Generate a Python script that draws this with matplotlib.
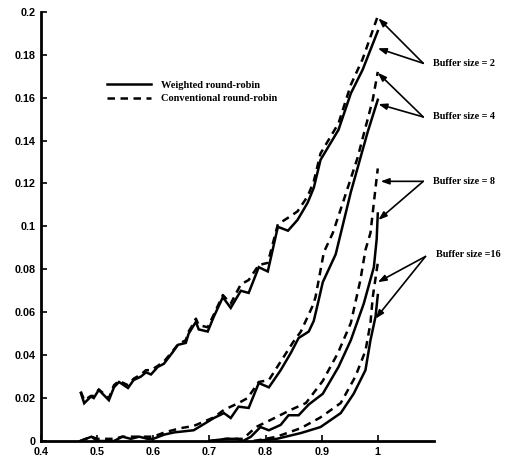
import matplotlib
matplotlib.use("Agg")
import matplotlib.pyplot as plt
from matplotlib.lines import Line2D

# Buffer size = 2
x_b2 = [0.471, 0.477, 0.489, 0.494, 0.503, 0.521, 0.530, 0.539, 0.555, 0.565,
        0.578, 0.587, 0.596, 0.608, 0.619, 0.635, 0.644, 0.658, 0.663, 0.670,
        0.676, 0.681, 0.697, 0.708, 0.724, 0.738, 0.756, 0.770, 0.788, 0.804,
        0.822, 0.840, 0.857, 0.875, 0.886, 0.898, 0.930, 0.952, 0.973, 1.0]
w_b2 = [0.0224, 0.0176, 0.0207, 0.020, 0.0238, 0.019, 0.025, 0.0275, 0.0247, 0.0284,
        0.030, 0.032, 0.031, 0.0345, 0.036, 0.0415, 0.0448, 0.0457, 0.050, 0.053,
        0.0555, 0.052, 0.051, 0.058, 0.067, 0.062, 0.070, 0.069, 0.081, 0.079,
        0.0998, 0.098, 0.103, 0.111, 0.118, 0.131, 0.145, 0.162, 0.173, 0.191]
c_b2 = [0.023, 0.019, 0.021, 0.021, 0.024, 0.020, 0.026, 0.028, 0.026, 0.029,
        0.031, 0.033, 0.033, 0.035, 0.037, 0.042, 0.045, 0.047, 0.051, 0.054,
        0.057, 0.054, 0.053, 0.059, 0.068, 0.064, 0.073, 0.075, 0.082, 0.083,
        0.101, 0.104, 0.107, 0.114, 0.121, 0.134, 0.148, 0.166, 0.178, 0.198]

# Buffer size = 4
x_b4w = [0.47, 0.49, 0.50, 0.53, 0.545, 0.56, 0.575, 0.59, 0.60, 0.62, 0.637,
         0.672, 0.708, 0.726, 0.738, 0.752, 0.770, 0.788, 0.806, 0.827, 0.845,
         0.859, 0.877, 0.886, 0.895, 0.902, 0.925, 0.952, 0.982, 1.0]
w_b4 = [0.0, 0.002, 0.0, 0.0, 0.002, 0.001, 0.002, 0.001, 0.001, 0.003, 0.004,
        0.005, 0.0107, 0.013, 0.0107, 0.016, 0.0154, 0.027, 0.025, 0.033, 0.041,
        0.048, 0.051, 0.056, 0.066, 0.074, 0.087, 0.116, 0.144, 0.159]
x_b4c = [0.47, 0.49, 0.50, 0.53, 0.545, 0.56, 0.575, 0.59, 0.60, 0.62, 0.649,
         0.672, 0.708, 0.726, 0.752, 0.768, 0.788, 0.806, 0.827, 0.849, 0.863,
         0.884, 0.889, 0.904, 0.920, 0.939, 0.964, 0.982, 0.991, 1.0]
c_b4 = [0.0, 0.002, 0.001, 0.001, 0.002, 0.002, 0.002, 0.002, 0.002, 0.004, 0.006,
        0.007, 0.011, 0.0145, 0.0177, 0.020, 0.0275, 0.0284, 0.037, 0.046, 0.051,
        0.063, 0.067, 0.088, 0.097, 0.112, 0.132, 0.150, 0.159, 0.172]

# Buffer size = 8
x_b8w = [0.70, 0.73, 0.75, 0.76, 0.774, 0.791, 0.806, 0.827, 0.841, 0.859,
         0.877, 0.902, 0.930, 0.952, 0.975, 0.993, 0.998, 1.0]
w_b8 = [0.0, 0.001, 0.001, 0.0, 0.002, 0.0065, 0.005, 0.0075, 0.012, 0.012,
        0.017, 0.022, 0.0345, 0.047, 0.064, 0.081, 0.094, 0.106]
x_b8c = [0.70, 0.73, 0.75, 0.76, 0.783, 0.809, 0.845, 0.872, 0.902, 0.929,
         0.952, 0.969, 0.978, 0.987, 0.996, 1.0]
c_b8 = [0.0, 0.001, 0.001, 0.001, 0.0065, 0.0098, 0.0145, 0.0177, 0.028, 0.041,
        0.055, 0.075, 0.089, 0.097, 0.118, 0.127]

# Buffer size = 16
x_b16w = [0.78, 0.82, 0.863, 0.898, 0.934, 0.957, 0.978, 0.987, 0.996, 1.0]
w_b16 = [0.0, 0.001, 0.0037, 0.0065, 0.013, 0.022, 0.033, 0.047, 0.058, 0.068]
x_b16c = [0.78, 0.82, 0.863, 0.898, 0.934, 0.960, 0.978, 0.987, 0.991, 1.0]
c_b16 = [0.0, 0.002, 0.006, 0.011, 0.0177, 0.030, 0.042, 0.055, 0.067, 0.083]

labels = ["Buffer size = 2", "Buffer size = 4", "Buffer size = 8", "Buffer size =16"]
label_pos = [(1.099, 0.176), (1.099, 0.151), (1.099, 0.121), (1.103, 0.087)]
arrow_tail = [(1.081, 0.176), (1.081, 0.151), (1.081, 0.121), (1.085, 0.086)]
arrow_heads = [[(1.001, 0.197), (1.0, 0.183)],
               [(1.0, 0.1716), (1.001, 0.157)],
               [(1.005, 0.121), (1.001, 0.103)],
               [(1.0, 0.074), (0.996, 0.057)]]

yticks = [0, 0.02, 0.04, 0.06, 0.08, 0.1, 0.12, 0.14, 0.16, 0.18, 0.2]
ytick_labels = ["0", "0.02", "0.04", "0.06", "0.08", "0.1", "0.12", "0.14", "0.16", "0.18", "0.2"]
xticks = [0.4, 0.5, 0.6, 0.7, 0.8, 0.9, 1.0]
xtick_labels = ["0.4", "0.5", "0.6", "0.7", "0.8", "0.9", "1"]

serif = ["Liberation Serif", "DejaVu Serif"]
sans = ["Liberation Sans", "DejaVu Sans"]

fig = plt.figure(figsize=(5.09, 4.61), dpi=100)
ax = fig.add_axes([0.0805, 0.0434, 0.772, 0.931])

solid = dict(color="black", lw=1.8, solid_joinstyle="miter")
dashed = dict(color="black", lw=1.8, dashes=(3, 2.2))

ax.plot(x_b2, w_b2, **solid)
ax.plot(x_b2, c_b2, **dashed)
ax.plot(x_b4w, w_b4, **solid)
ax.plot(x_b4c, c_b4, **dashed)
ax.plot(x_b8w, w_b8, **solid)
ax.plot(x_b8c, c_b8, **dashed)
ax.plot(x_b16w, w_b16, **solid)
ax.plot(x_b16c, c_b16, **dashed)

ax.set_xlim(0.4, 1.1)
ax.set_ylim(0, 0.2)

for s in ["top", "right"]:
    ax.spines[s].set_visible(False)
for s in ["left", "bottom"]:
    ax.spines[s].set_linewidth(2.0)

ax.set_xticks(xticks)
ax.set_xticklabels(xtick_labels, fontfamily=sans, fontweight="bold", fontsize=7.8)
ax.set_yticks(yticks)
ax.set_yticklabels(ytick_labels, fontfamily=sans, fontweight="bold", fontsize=7.8)
ax.tick_params(direction="in", length=4, width=1.2, pad=4)

# Labels and arrows
for lab, pos, tail, heads in zip(labels, label_pos, arrow_tail, arrow_heads):
    ax.text(pos[0], pos[1], lab, fontfamily=serif, fontweight="bold", fontsize=7.3,
            va="center", ha="left", clip_on=False)
    for h in heads:
        ax.annotate("", xy=h, xytext=tail, annotation_clip=False,
                    arrowprops=dict(arrowstyle="-|>,head_length=0.5,head_width=0.18",
                                    color="black", lw=1.2, shrinkA=0, shrinkB=0))

# Legend
handles = [Line2D([], [], **solid), Line2D([], [], **dashed)]
ax.legend(handles, ["Weighted round-robin", "Conventional round-robin"],
          loc="upper left", bbox_to_anchor=(0.155, 0.852), frameon=False,
          handlelength=4.2, handletextpad=1.0, labelspacing=0.4, borderpad=0,
          prop=dict(family=serif, weight="bold", size=7.5))

fig.savefig("out.png", dpi=100)
